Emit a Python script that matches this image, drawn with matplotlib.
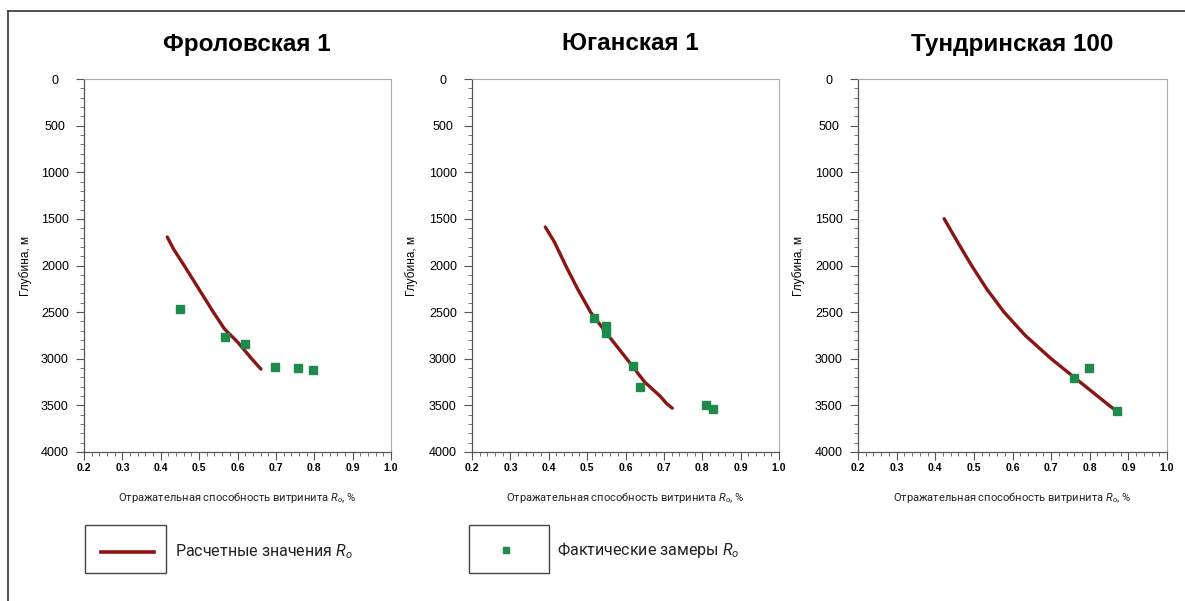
import matplotlib.pyplot as plt
from matplotlib.lines import Line2D
from matplotlib.patches import Rectangle
from matplotlib.ticker import MultipleLocator

plt.rcParams['font.family'] = ['Liberation Sans', 'DejaVu Sans']
plt.rcParams['mathtext.fontset'] = 'custom'
plt.rcParams['mathtext.it'] = 'Roboto:italic'
plt.rcParams['mathtext.rm'] = 'Roboto'

# well names
titles = ['Фроловская 1', 'Юганская 1', 'Тундринская 100']

# calculated Ro (line): reflectance, depth
calc_ro = [
    [0.417, 0.433, 0.461, 0.499, 0.537, 0.566, 0.600, 0.637, 0.661],
    [0.391, 0.415, 0.444, 0.475, 0.509, 0.555, 0.603, 0.650, 0.690, 0.707, 0.722],
    [0.423, 0.458, 0.494, 0.533, 0.578, 0.633, 0.700, 0.775, 0.850, 0.880],
]
calc_depth = [
    [1695, 1821, 2000, 2250, 2500, 2680, 2820, 3000, 3111],
    [1588, 1750, 2000, 2250, 2500, 2750, 3000, 3250, 3400, 3480, 3530],
    [1498, 1750, 2000, 2250, 2500, 2750, 3000, 3250, 3500, 3595],
]

# measured Ro (points)
meas_ro = [
    [0.449, 0.567, 0.620, 0.699, 0.758, 0.798],
    [0.518, 0.549, 0.549, 0.620, 0.638, 0.809, 0.828],
    [0.758, 0.798, 0.870],
]
meas_depth = [
    [2470, 2763, 2839, 3086, 3097, 3122],
    [2566, 2645, 2728, 3075, 3308, 3498, 3538],
    [3211, 3104, 3559],
]

line_color = '#8b1414'
pt_color = '#1e8a4c'
side_font = ['Roboto', 'DejaVu Sans']

fig = plt.figure(figsize=(11.85, 6.01), dpi=100)

lefts = [84, 472, 858]
widths = [307, 307, 309]
title_x = [247, 630, 1012]
ylab_x = [-0.169, -0.176, -0.172]

for i in range(3):
    ax = fig.add_axes([lefts[i] / 1185, 1 - 452 / 601, widths[i] / 1185, 373 / 601])
    ax.plot(calc_ro[i], calc_depth[i], color=line_color, lw=2.4, solid_capstyle='round')
    ax.plot(meas_ro[i], meas_depth[i], ls='none', marker='s', ms=5.5, color=pt_color)
    ax.set_xlim(0.2, 1.0)
    ax.set_ylim(4000, 0)
    ax.xaxis.set_major_locator(MultipleLocator(0.1))
    ax.xaxis.set_minor_locator(MultipleLocator(0.02))
    ax.yaxis.set_major_locator(MultipleLocator(500))
    ax.yaxis.set_minor_locator(MultipleLocator(100))
    ax.tick_params(which='major', direction='out', length=6, width=0.8, color='#555555')
    ax.tick_params(which='minor', direction='out', length=3, width=0.7, color='#777777')
    ax.tick_params(axis='y', labelsize=9, pad=15)
    ax.tick_params(axis='x', labelsize=7.5, pad=2)
    ax.xaxis.set_major_formatter(plt.FuncFormatter(lambda v, p: f'{v:.1f}'))
    for lab in ax.get_xticklabels():
        lab.set_fontweight('bold')
    for lab in ax.get_yticklabels():
        lab.set_horizontalalignment('center')
    for s in ['top', 'right']:
        ax.spines[s].set_color('#aaaaaa')
        ax.spines[s].set_linewidth(0.8)
    for s in ['left', 'bottom']:
        ax.spines[s].set_color('#555555')
        ax.spines[s].set_linewidth(0.9)
    ax.set_ylabel('Глубина, м', fontsize=8.5)
    ax.yaxis.set_label_coords(ylab_x[i], 0.5)
    ax.set_xlabel('Отражательная способность витринита $R_o$, %',
                  fontsize=8, family=side_font, color='#222222')
    ax.xaxis.set_label_coords(0.5, -0.102)
    fig.text(title_x[i] / 1185, 1 - 44 / 601, titles[i], ha='center', va='center',
             fontsize=17.5, fontweight='bold')

# outer frame (top and left edges)
fig.add_artist(Line2D([8 / 1185, 1], [1 - 11 / 601, 1 - 11 / 601], color='#333333', lw=1.2))
fig.add_artist(Line2D([8 / 1185, 8 / 1185], [0, 1 - 11 / 601], color='#333333', lw=1.2))

# legend boxes
fy0 = 1 - 573 / 601
fh = 48 / 601
fig.add_artist(Rectangle((85 / 1185, fy0), 81 / 1185, fh, fill=False, ec='#444444', lw=1.0))
fig.add_artist(Line2D([101 / 1185, 154 / 1185], [1 - 552 / 601] * 2, color=line_color, lw=2.6))
fig.text(175 / 1185, 1 - 552 / 601, 'Расчетные значения $R_o$', ha='left', va='center',
         fontsize=11.5, family=side_font, color='#222222')

fig.add_artist(Rectangle((469 / 1185, fy0), 80 / 1185, fh, fill=False, ec='#444444', lw=1.0))
fig.add_artist(Line2D([506 / 1185], [1 - 550 / 601], ls='none', marker='s', ms=5, color=pt_color))
fig.text(557 / 1185, 1 - 550 / 601, 'Фактические замеры $R_o$', ha='left', va='center',
         fontsize=11.5, family=side_font, color='#222222')

fig.savefig('out.png', dpi=100, facecolor='white')
